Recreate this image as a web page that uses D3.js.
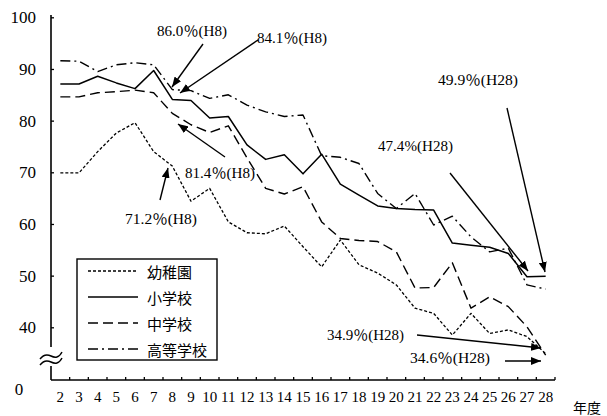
<!DOCTYPE html>
<html><head><meta charset="utf-8">
<script src="https://cdn.jsdelivr.net/npm/d3@7"></script>
<style>body{margin:0;background:#fff} svg{display:block;background:#fff}</style>
</head><body><svg id="c" width="607" height="416"></svg>
<script>
// ---- data ----
const years = [2,3,4,5,6,7,8,9,10,11,12,13,14,15,16,17,18,19,20,21,22,23,24,25,26,27,28];
const seriesNames = ["幼稚園","小学校","中学校","高等学校"];
const kindergarten = [69.9,69.9,74.0,77.6,79.6,74.0,71.2,64.4,66.9,60.4,58.3,58.1,59.6,55.6,51.7,56.9,52.1,50.5,48.2,43.7,42.7,38.5,42.7,38.8,39.5,38.2,34.9];
const elementary   = [87.1,87.1,88.6,87.3,86.2,89.7,84.1,83.9,80.5,80.8,75.3,72.5,73.4,69.7,73.5,67.7,65.6,63.5,63.0,62.8,62.7,56.3,55.9,55.5,54.3,49.8,49.9];
const juniorHigh   = [84.6,84.6,85.4,85.6,85.9,85.4,81.4,79.2,77.7,79.0,72.8,66.9,65.8,67.2,60.4,57.2,56.8,56.6,54.6,47.6,47.7,52.5,43.7,45.9,44.0,40.1,34.6];
const highSchool   = [91.6,91.5,89.5,90.8,91.2,90.8,86.0,85.8,84.3,85.0,83.0,81.7,80.8,81.1,73.2,72.9,71.7,65.9,63.0,65.9,59.8,61.5,57.5,54.6,55.3,48.2,47.4];
const yTicks = [100,90,80,70,60,50,40];
const yZeroLabel = "0";
const xUnitLabel = "年度";
const annotationLabels = ["86.0％(H8)","84.1％(H8)","81.4％(H8)","71.2％(H8)","49.9％(H28)","47.4%(H28)","34.9％(H28)","34.6％(H28)"];

// ---- layout ----
const svg = d3.select("#c");
const left = 51, right = 555, axisY = 380;
const x = d3.scaleBand().domain(years).range([left, right]).padding(0);
const y = d3.scaleLinear().domain([40, 100]).range([327.3, 17.3]);
const cx = d => x(d) + x.bandwidth() / 2;
const serif = "'Liberation Serif','DejaVu Serif','Noto Sans CJK JP',serif";
const cjk = "'Noto Sans CJK JP','Noto Sans CJK SC',sans-serif";

svg.append("rect").attr("width",607).attr("height",416).attr("fill","#fff");

const defs = svg.append("defs");
defs.append("marker").attr("id","arr").attr("markerUnits","userSpaceOnUse")
  .attr("markerWidth",10).attr("markerHeight",8).attr("refX",10).attr("refY",4)
  .attr("orient","auto")
  .append("path").attr("d","M0,0 L10,4 L0,8 Z").attr("fill","#000");

// y axis
const yAxis = d3.axisLeft(y).tickValues(yTicks).tickSize(-3).tickPadding(15);
const gy = svg.append("g").attr("transform",`translate(${left},0)`).call(yAxis);
gy.select(".domain").remove();
gy.selectAll(".tick line").attr("stroke","#000").attr("stroke-width",1.3);
gy.selectAll(".tick text").attr("font-family",serif).attr("font-size",17).attr("fill","#000");

// y axis line with break
svg.append("line").attr("x1",left).attr("x2",left).attr("y1",15).attr("y2",347)
  .attr("stroke","#000").attr("stroke-width",1.6);
svg.append("line").attr("x1",left).attr("x2",left).attr("y1",366).attr("y2",axisY)
  .attr("stroke","#000").attr("stroke-width",1.6);
["M40,359 c3,-4 7,-5 11,-3 s8,2 11,-4","M40,365 c3,-4 7,-5 11,-3 s8,2 11,-4"].forEach(p=>
  svg.append("path").attr("d",p).attr("fill","none").attr("stroke","#000").attr("stroke-width",1.4));
svg.append("text").attr("x",19).attr("y",389).attr("text-anchor","middle")
  .attr("dominant-baseline","central").attr("font-family",serif).attr("font-size",17).text(yZeroLabel);

// x axis
svg.append("line").attr("x1",left).attr("x2",right).attr("y1",axisY).attr("y2",axisY)
  .attr("stroke","#000").attr("stroke-width",1.6);
svg.append("g").selectAll("line").data(years).join("line")
  .attr("x1",d=>x(d)+x.bandwidth()).attr("x2",d=>x(d)+x.bandwidth())
  .attr("y1",axisY).attr("y2",axisY-3).attr("stroke","#000").attr("stroke-width",1.3);
const xAxis = d3.axisBottom(x).tickSize(0).tickPadding(11);
const gx = svg.append("g").attr("transform",`translate(0,${axisY})`).call(xAxis);
gx.select(".domain").remove();
gx.selectAll(".tick text").attr("font-family",serif).attr("font-size",15).attr("fill","#000");
svg.append("text").attr("x",587).attr("y",407).attr("text-anchor","middle")
  .attr("dominant-baseline","central").attr("font-family",cjk).attr("font-size",14).text(xUnitLabel);

// series lines
const styles = [
  {dash:"3,2", w:1.3},
  {dash:null, w:1.5},
  {dash:"10,5", w:1.4},
  {dash:"10,4,2,4", w:1.4}
];
const allSeries = [kindergarten, elementary, juniorHigh, highSchool];
const line = d3.line().x((d,i)=>cx(years[i])).y(d=>y(d));
allSeries.forEach((s,k)=>{
  svg.append("path").attr("d",line(s)).attr("fill","none").attr("stroke","#000")
    .attr("stroke-width",styles[k].w).attr("stroke-dasharray",styles[k].dash)
    .attr("stroke-linejoin","round");
});

// legend
const lg = svg.append("g");
lg.append("rect").attr("x",77).attr("y",259).attr("width",140).attr("height",101)
  .attr("fill","#fff").attr("stroke","#000").attr("stroke-width",1.4);
const rowY = [271,297,323,349];
seriesNames.forEach((n,k)=>{
  lg.append("line").attr("x1",88).attr("x2",138).attr("y1",rowY[k]).attr("y2",rowY[k])
    .attr("stroke","#000").attr("stroke-width",styles[k].w).attr("stroke-dasharray",styles[k].dash);
  lg.append("text").attr("x",147).attr("y",rowY[k]).attr("dominant-baseline","central")
    .attr("font-family",cjk).attr("font-size",15).text(n);
});

// annotations (label layout: text left x, center y, width; arrow from -> to)
const annLayout = [
  {tx:157, ty:31, w:70, a:[203,44,172,87]},
  {tx:257, ty:38, w:70, a:[258,40,180,93]},
  {tx:185, ty:173, w:70, a:[225,157,178,124]},
  {tx:125, ty:219, w:72, a:[160,200,168,168]},
  {tx:438, ty:80, w:80, a:[507,108,545,272]},
  {tx:378, ty:146, w:75, a:[450,173,528,271]},
  {tx:327, ty:335, w:77, a:[417,335,541,348]},
  {tx:410, ty:358, w:80, a:[505,361,541,361]}
];
annotationLabels.forEach((t,i)=>{
  const L = annLayout[i];
  svg.append("text").attr("x",L.tx).attr("y",L.ty).attr("dominant-baseline","central")
    .attr("font-family",serif).attr("font-size",14).attr("textLength",L.w)
    .attr("lengthAdjust","spacingAndGlyphs").text(t);
  svg.append("line").attr("x1",L.a[0]).attr("y1",L.a[1]).attr("x2",L.a[2]).attr("y2",L.a[3])
    .attr("stroke","#000").attr("stroke-width",1.4).attr("marker-end","url(#arr)");
});
</script></body></html>
